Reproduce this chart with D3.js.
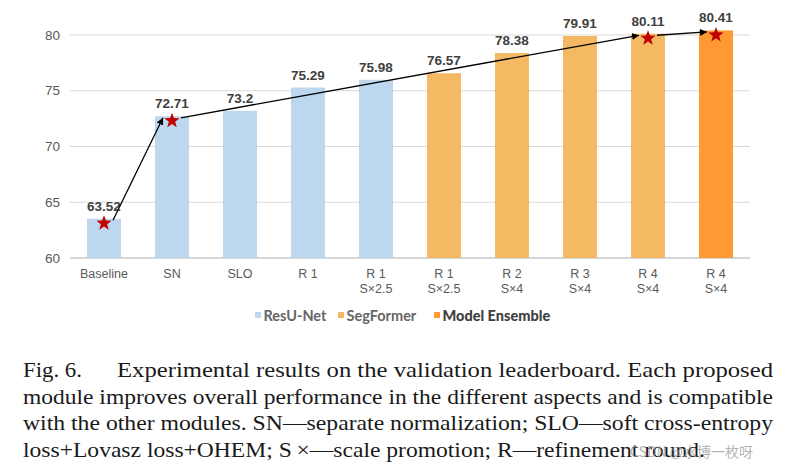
<!DOCTYPE html>
<html><head><meta charset="utf-8">
<script src="https://cdn.jsdelivr.net/npm/d3@7"></script>
<style>body{margin:0;background:#fff}svg{display:block}</style>
</head><body>
<svg id="c" width="791" height="466"></svg>
<script>
const categories = [["Baseline"],["SN"],["SLO"],["R 1"],["R 1","S×2.5"],["R 1","S×2.5"],["R 2","S×4"],["R 3","S×4"],["R 4","S×4"],["R 4","S×4"]];
const values = [63.52, 72.71, 73.2, 75.29, 75.98, 76.57, 78.38, 79.91, 80.11, 80.41];
const groups = ["ResU-Net","ResU-Net","ResU-Net","ResU-Net","ResU-Net","SegFormer","SegFormer","SegFormer","SegFormer","Model Ensemble"];
const seriesNames = ["ResU-Net","SegFormer","Model Ensemble"];
const seriesColors = ["#BDD7EE","#F4B962","#FF9933"];
const yTicks = [60, 65, 70, 75, 80];
const starIdx = [0, 1, 8, 9];
const arrows = [[0,1],[1,8],[8,9]];
const captionHead = "Fig. 6.";
const captionLines = [
  "Experimental results on the validation leaderboard. Each proposed",
  "module improves overall performance in the different aspects and is compatible",
  "with the other modules. SN—separate normalization; SLO—soft cross-entropy",
  "loss+Lovasz loss+OHEM; S\u2009×—scale promotion; R—refinement round."
];

const svg = d3.select("#c");
const x = d3.scaleBand().domain(d3.range(categories.length)).range([70, 750]).paddingInner(0.5).paddingOuter(0.25);
const y = d3.scaleLinear().domain([60, 80]).range([258, 35]);
const color = d3.scaleOrdinal().domain(seriesNames).range(seriesColors);

// grid
svg.append("g").selectAll("line").data(yTicks).join("line")
  .attr("x1", 70).attr("x2", 750).attr("y1", d => y(d)).attr("y2", d => y(d))
  .attr("stroke", d => d === 60 ? "#c8c8c8" : "#d9d9d9").attr("stroke-width", d => d === 60 ? 1.3 : 1);

// y labels
svg.append("g").selectAll("text").data(yTicks).join("text")
  .attr("x", 60).attr("y", d => y(d) + 4.5).attr("text-anchor", "end")
  .attr("font-family", "Liberation Sans, Arial, sans-serif").attr("font-size", 13.5).attr("fill", "#595959")
  .text(d => d);

// bars
svg.append("g").selectAll("rect").data(values).join("rect")
  .attr("x", (d, i) => x(i)).attr("width", x.bandwidth())
  .attr("y", d => y(d)).attr("height", d => y(60) - y(d))
  .attr("fill", (d, i) => color(groups[i]));

// value labels
svg.append("g").selectAll("text").data(values).join("text")
  .attr("x", (d, i) => x(i) + x.bandwidth() / 2).attr("y", d => y(d) - 8)
  .attr("text-anchor", "middle").attr("font-family", "Liberation Sans, Arial, sans-serif")
  .attr("font-weight", "bold").attr("font-size", 13.5).attr("fill", "#404040")
  .text(d => d);

// x labels
const xl = svg.append("g").selectAll("text").data(categories).join("text")
  .attr("text-anchor", "middle").attr("font-family", "Liberation Sans, Arial, sans-serif")
  .attr("font-size", 12.5).attr("fill", "#595959");
xl.each(function(d, i) {
  const t = d3.select(this);
  d.forEach((s, k) => t.append("tspan").attr("x", x(i) + x.bandwidth() / 2).attr("y", 278 + k * 14.5).text(s));
});

// arrows
const defs = svg.append("defs");
defs.append("marker").attr("id", "ah").attr("viewBox", "0 0 10 10").attr("refX", 10).attr("refY", 5)
  .attr("markerWidth", 7).attr("markerHeight", 7).attr("markerUnits", "userSpaceOnUse").attr("orient", "auto")
  .append("path").attr("d", "M0,0L10,5L0,10z").attr("fill", "#000");
const pt = i => [x(i) + x.bandwidth() / 2, y(values[i]) + 4.5];
svg.append("g").selectAll("line").data(arrows).join("line")
  .attr("x1", d => pt(d[0])[0] + 9).attr("y1", d => pt(d[0])[1] - 3)
  .attr("x2", d => pt(d[1])[0] - 9).attr("y2", d => pt(d[1])[1] - 3)
  .attr("stroke", "#000").attr("stroke-width", 1.3).attr("marker-end", "url(#ah)");

// stars
function starPath(cx, cy, R, r) {
  let p = [];
  for (let k = 0; k < 10; k++) {
    const a = -Math.PI / 2 + k * Math.PI / 5, rr = k % 2 ? r : R;
    p.push([cx + rr * Math.cos(a), cy + rr * Math.sin(a)]);
  }
  return "M" + p.map(q => q.join(",")).join("L") + "Z";
}
svg.append("g").selectAll("path").data(starIdx).join("path")
  .attr("d", i => starPath(pt(i)[0], pt(i)[1], 8, 3.3)).attr("fill", "#C00000");

// legend
const lg = svg.append("g").attr("font-family", "Lato, sans-serif").attr("font-size", 14.5);
const lx = [255, 338, 434];
seriesNames.forEach((s, i) => {
  lg.append("rect").attr("x", lx[i]).attr("y", 312).attr("width", 6).attr("height", 6).attr("fill", seriesColors[i]);
  lg.append("text").attr("x", lx[i] + 8.5).attr("y", 320.5).attr("fill", i === 2 ? "#404040" : "#666")
    .attr("font-weight", i === 2 ? 900 : 700).text(s);
});

// caption (justified, condensed Times look)
const cap = svg.append("g").attr("font-family", "Liberation Serif, Times New Roman, serif").attr("font-size", 22).attr("fill", "#1a1a1a");
const left = 23, right = 773, lh = 26.6, base0 = 377;
cap.append("text").attr("x", left).attr("y", base0).attr("textLength", 59).attr("lengthAdjust", "spacingAndGlyphs").text(captionHead);
const lineStarts = [117, left, left, left];
const lineEnds = [right, right, right, 705];
captionLines.forEach((line, li) => {
  cap.append("text").attr("x", lineStarts[li]).attr("y", base0 + li * lh)
    .attr("textLength", lineEnds[li] - lineStarts[li]).attr("lengthAdjust", "spacingAndGlyphs").text(line);
});

// watermark
svg.append("text").attr("x", 630).attr("y", 457).attr("font-family", "Noto Sans CJK SC, sans-serif")
  .attr("font-size", 14).attr("fill", "#9a9a9a").attr("fill-opacity", 0.75).text("CSDN @水博一枚呀");
</script>
</body></html>
